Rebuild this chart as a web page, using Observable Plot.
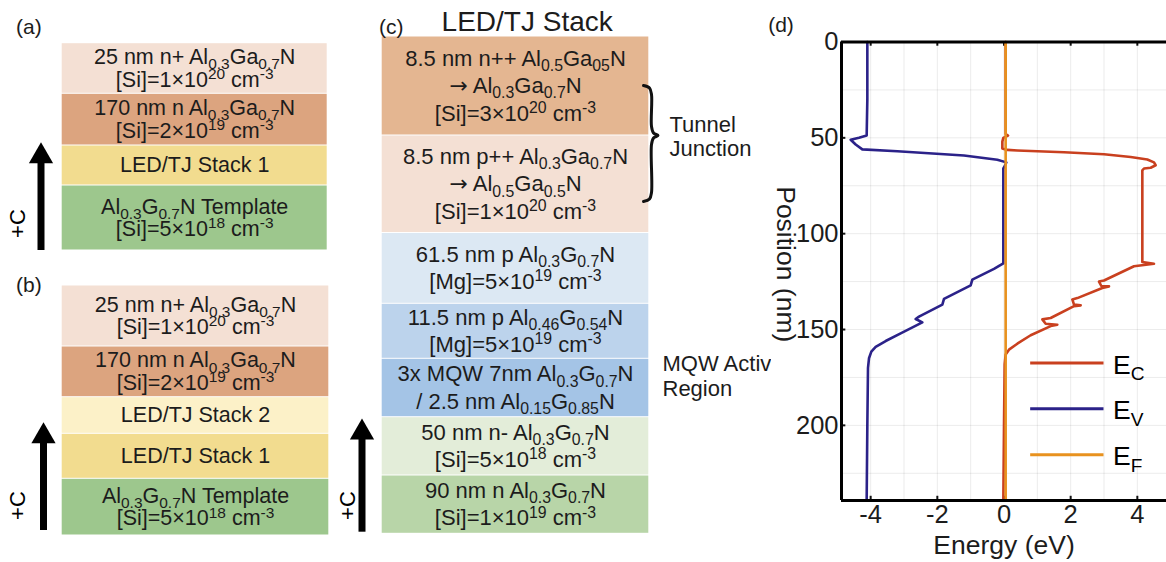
<!DOCTYPE html>
<html>
<head>
<meta charset="utf-8">
<script src="https://cdn.jsdelivr.net/npm/d3@7"></script>
<script src="https://cdn.jsdelivr.net/npm/@observablehq/plot@0.6"></script>
<style>
  html, body { margin: 0; padding: 0; background: #fff; }
  #fig { position: relative; width: 1166px; height: 562px; overflow: hidden; background: #fff; }
  #fig > svg { position: absolute; max-width: none; }
</style>
</head>
<body>
<div id="fig"></div>
<script>
// ================= DATA =================
// Layer stacks (top to bottom); "_{..}" = subscript, "^{..}" = superscript
const stackALayers = [
  ["25 nm n+ Al_{0.3}Ga_{0.7}N", "[Si]=1×10^{20} cm^{-3}"],
  ["170 nm n Al_{0.3}Ga_{0.7}N", "[Si]=2×10^{19} cm^{-3}"],
  ["LED/TJ Stack 1"],
  ["Al_{0.3}G_{0.7}N Template", "[Si]=5×10^{18} cm^{-3}"]
];
const stackBLayers = [
  ["25 nm n+ Al_{0.3}Ga_{0.7}N", "[Si]=1×10^{20} cm^{-3}"],
  ["170 nm n Al_{0.3}Ga_{0.7}N", "[Si]=2×10^{19} cm^{-3}"],
  ["LED/TJ Stack 2"],
  ["LED/TJ Stack 1"],
  ["Al_{0.3}G_{0.7}N Template", "[Si]=5×10^{18} cm^{-3}"]
];
const stackCLayers = [
  ["8.5 nm n++ Al_{0.5}Ga_{05}N", "→ Al_{0.3}Ga_{0.7}N", "[Si]=3×10^{20} cm^{-3}"],
  ["8.5 nm p++ Al_{0.3}Ga_{0.7}N", "→ Al_{0.5}Ga_{0.5}N", "[Si]=1×10^{20} cm^{-3}"],
  ["61.5 nm p Al_{0.3}G_{0.7}N", "[Mg]=5×10^{19} cm^{-3}"],
  ["11.5 nm p Al_{0.46}G_{0.54}N", "[Mg]=5×10^{19} cm^{-3}"],
  ["3x MQW 7nm Al_{0.3}G_{0.7}N", "/ 2.5 nm Al_{0.15}G_{0.85}N"],
  ["50 nm n- Al_{0.3}G_{0.7}N", "[Si]=5×10^{18} cm^{-3}"],
  ["90 nm n Al_{0.3}G_{0.7}N", "[Si]=1×10^{19} cm^{-3}"]
];
const stackCTitle = "LED/TJ Stack";
const panelLabels = ["(a)", "(b)", "(c)", "(d)"];
const growthLabel = "+C";
const tunnelLabel = ["Tunnel", "Junction"];
const mqwLabel = ["MQW Active", "Region"];

// Band diagram (energy in eV, position in nm)
const ecEnergy   = [0.05, 0.05, 0.12, -0.02, -0.05, -0.05, 0.1, 0.4, 1.8, 3.0, 3.8, 4.3, 4.5, 4.55, 4.4, 4.2, 4.15, 4.15, 4.5, 3.9, 3.0, 2.85, 2.92, 3.15, 2.95, 2.2, 2.05, 2.1, 2.3, 2.1, 1.4, 1.15, 1.25, 1.6, 1.4, 0.8, 0.4, 0.15, 0.05, 0.02, 0.0, -0.02];
const ecPosition = [0, 48, 48.8, 50, 52, 55.5, 56.3, 56.6, 57.5, 58.6, 60, 61.3, 62.8, 64.3, 65.6, 66, 67, 114.8, 115.7, 117, 124.4, 125, 127.3, 127.5, 128.3, 133.6, 134.3, 137, 137.4, 137.8, 144, 144.7, 147, 147.5, 148.2, 153, 157.4, 160.5, 163, 168, 200, 239.2];
const evEnergy   = [-4.1, -4.1, -4.12, -4.35, -4.6, -4.45, -4.25, -3.2, -1.2, -0.2, 0.07, 0.03, -0.02, -0.02, -0.3, -0.95, -1.0, -1.8, -1.85, -2.55, -2.65, -2.45, -3.1, -3.55, -3.85, -3.98, -4.05, -4.08, -4.1, -4.12];
const evPosition = [0, 30, 48.8, 50, 51, 53.5, 56, 57, 59.2, 61.4, 62.8, 64.5, 66, 115.5, 118.4, 124, 127, 134, 137, 143.3, 144.5, 146.3, 152, 156, 159, 161.5, 165, 170, 200, 239.2];
const efEnergy   = [0.05, 0.05];
const efPosition = [0, 239.2];
const energyTicks   = [-4, -2, 0, 2, 4];
const positionTicks = [0, 50, 100, 150, 200];
const legendNames = ["E_{C}", "E_{V}", "E_{F}"];
const xLabel = "Energy (eV)";
const yLabel = "Position (nm)";

// ================= STYLE / LAYOUT =================
const FONT = '"Liberation Sans", Arial, Helvetica, sans-serif';
const INK = "#1c1c1c";
const C = {
  peach: "#f4e0d4", brown: "#dca47f", brownC: "#e4b691", yellow: "#f2dc8f", paleYellow: "#fcf1c8",
  green: "#9dc78d", paleBlue: "#dce8f3", midBlue: "#bcd3ec", blue: "#a4c4e6",
  paleGreen: "#e3edd9", greenC: "#b8d5a8",
  ec: "#c9401f", ev: "#2b2289", ef: "#e8921f"
};
const layoutA = {
  svgX: 0, svgY: 0, svgW: 330, svgH: 262,
  stackX: [61.7, 326.7], stackY: [42.7, 250], heights: [50.6, 51.7, 40, 65],
  fills: [C.peach, C.brown, C.yellow, C.green], fontSize: 21.5, lineGap: 22.5,
  arrow: {x: 40.5, tip: 141.7, bottom: 250}, plusC: {x: 17.5, y: 223},
  label: {text: panelLabels[0], x: 28.3, y: 27}
};
const layoutB = {
  svgX: 0, svgY: 262, svgW: 330, svgH: 300,
  stackX: [61.7, 328.3], stackY: [285, 535], heights: [61, 50.7, 36.6, 45, 56.7],
  fills: [C.peach, C.brown, C.paleYellow, C.yellow, C.green], fontSize: 21.5, lineGap: 22.5,
  arrow: {x: 43, tip: 421.7, bottom: 530}, plusC: {x: 17.5, y: 505},
  label: {text: panelLabels[1], x: 28.3, y: 285}
};
const layoutC = {
  svgX: 330, svgY: 0, svgW: 441, svgH: 562,
  stackX: [381.7, 648.3], stackY: [36, 533.3], heights: [99, 97.5, 70.8, 55, 58.4, 58.3, 58.3],
  fills: [C.brownC, C.peach, C.paleBlue, C.midBlue, C.blue, C.paleGreen, C.greenC], fontSize: 22, lineGap: 27.5,
  arrow: {x: 361.5, tip: 418, bottom: 531.7}, plusC: {x: 347.5, y: 505},
  label: {text: panelLabels[2], x: 390.8, y: 27}
};
const braceC = [[643,85],[649,87.5],[651,94],[651,126],[653,132.5],[657.5,135],[653,137.5],[651,144],[651,192],[649,198.5],[643,201]];

const fig = document.getElementById("fig");

function richify(svg) {
  svg.querySelectorAll("text").forEach(t => {
    if (t.querySelector("tspan")) return;
    const s = t.textContent;
    if (!/[_^]\{|→/.test(s)) return;
    const fs = parseFloat(getComputedStyle(t).fontSize) || 20;
    t.textContent = "";
    let shift = 0;
    const re = /([_^])\{([^}]*)\}|(→)|([^_^→]+)/g;
    let m;
    while ((m = re.exec(s))) {
      const span = document.createElementNS("http://www.w3.org/2000/svg", "tspan");
      let target, size, txt;
      if (m[1] === "_") { target = 0.24 * fs; size = 0.72 * fs; txt = m[2]; }
      else if (m[1] === "^") { target = -0.36 * fs; size = 0.72 * fs; txt = m[2]; }
      else if (m[3]) { target = 0; size = fs; txt = m[3]; span.setAttribute("font-family", '"DejaVu Sans", sans-serif'); }
      else { target = 0; size = fs; txt = m[4]; }
      span.textContent = txt;
      if (Math.abs(target - shift) > 1e-6) span.setAttribute("dy", (target - shift).toFixed(2));
      if (size !== fs) span.setAttribute("font-size", size.toFixed(2));
      shift = target;
      t.appendChild(span);
    }
  });
}

function place(svg, x, y) {
  svg.style.left = x + "px";
  svg.style.top = y + "px";
  svg.style.background = "transparent";
  svg.style.overflow = "hidden";
  fig.appendChild(svg);
  richify(svg);
}

function stackPanel(layers, L, extra) {
  const [x0, x1] = L.stackX, [y0, y1] = L.stackY;
  const total = y1 - y0;
  const k = total / d3.sum(L.heights);
  const hs = L.heights.map(h => h * k);
  const ends = d3.cumsum(hs);
  const xu = px => (px - x0) / (x1 - x0);
  const yu = py => py - y0;
  const rows = layers.map((lines, i) => ({y1: ends[i] - hs[i], y2: ends[i], fill: L.fills[i]}));
  const textRows = layers.flatMap((lines, i) => lines.map((text, j) => ({
    text, y: (rows[i].y1 + rows[i].y2) / 2 + (j - (lines.length - 1) / 2) * L.lineGap
  })));
  const marks = [
    Plot.rect(rows, {x1: 0, x2: 1, y1: "y1", y2: "y2", fill: "fill", insetTop: 0.5, insetBottom: 0.5}),
    Plot.text(textRows, {x: 0.5, y: "y", text: "text", fontSize: L.fontSize, fill: INK}),
    Plot.ruleX([xu(L.arrow.x)], {y1: yu(L.arrow.bottom), y2: yu(L.arrow.tip + 16), stroke: "#000", strokeWidth: 7}),
    Plot.dot([xu(L.arrow.x)], {x: d => d, y: yu(L.arrow.tip + 14), symbol: "triangle", r: 9, fill: "#000", stroke: "none"}),
    Plot.text([growthLabel], {x: xu(L.plusC.x), y: yu(L.plusC.y), rotate: -90, fontSize: 22, fill: "#000"}),
    Plot.text([L.label.text], {x: xu(L.label.x), y: yu(L.label.y), fontSize: 21, fill: INK}),
    ...(extra ? extra(xu, yu) : [])
  ];
  const svg = Plot.plot({
    width: L.svgW, height: L.svgH, margin: 0,
    x: {domain: [0, 1], range: [x0 - L.svgX, x1 - L.svgX], axis: null},
    y: {domain: [0, total], range: [y0 - L.svgY, y1 - L.svgY], axis: null},
    color: {type: "identity"},
    style: {fontFamily: FONT, fontSize: "21px", color: INK, background: "transparent"},
    marks
  });
  place(svg, L.svgX, L.svgY);
}

stackPanel(stackALayers, layoutA);
stackPanel(stackBLayers, layoutB);
stackPanel(stackCLayers, layoutC, (xu, yu) => [
  Plot.text([stackCTitle], {x: xu(526.7), y: yu(22), fontSize: 28, fill: INK}),
  Plot.line(braceC, {x: d => xu(d[0]), y: d => yu(d[1]), curve: "catmull-rom", stroke: "#111", strokeWidth: 3, fill: "none"}),
  Plot.text(tunnelLabel, {x: xu(669), y: (d, i) => yu(124 + i * 24.5), textAnchor: "start", fontSize: 22, fill: INK}),
  Plot.text(mqwLabel, {x: xu(662), y: (d, i) => yu(363 + i * 25), textAnchor: "start", fontSize: 22, fill: INK})
]);

// ---------- Band diagram (d) ----------
const toPts = (E, P) => E.map((e, i) => ({e, p: P[i]}));
const ec = toPts(ecEnergy, ecPosition);
const ev = toPts(evEnergy, evPosition);
const ef = toPts(efEnergy, efPosition);
const X0 = -4.875, X1 = 4.875, YMAX = 239.2;
const legendY = [167.5, 191.3, 215.3];
const legendRows = legendNames.map((name, i) => ({name, y: legendY[i], color: [C.ec, C.ev, C.ef][i]}));

const svgD = Plot.plot({
  width: 401, height: 562,
  marginLeft: 76, marginRight: 0, marginTop: 41.5, marginBottom: 62,
  x: {domain: [X0, X1]},
  y: {domain: [0, YMAX], reverse: true},
  color: {type: "identity"},
  style: {fontFamily: FONT, fontSize: "25.5px", color: INK, background: "transparent"},
  marks: [
    Plot.gridX(d3.range(-4, 5, 1), {stroke: "#000", strokeOpacity: 0.08, strokeWidth: 1}),
    Plot.gridY(d3.range(25, 239, 25), {stroke: "#000", strokeOpacity: 0.08, strokeWidth: 1}),
    Plot.axisX(energyTicks, {tickSize: 0, tickPadding: 4, tickFormat: d => String(d), label: null, fontSize: 25.5}),
    Plot.axisY(positionTicks, {tickSize: 0, tickPadding: 3, label: null, fontSize: 25.5}),
    Plot.ruleX(energyTicks, {y1: 0, y2: 2.2, stroke: "#111", strokeWidth: 2}),
    Plot.ruleX(energyTicks, {y1: YMAX - 2.2, y2: YMAX, stroke: "#111", strokeWidth: 2}),
    Plot.ruleY(positionTicks, {x1: X0, x2: X0 + 0.13, stroke: "#111", strokeWidth: 2}),
    Plot.line(ec, {x: "e", y: "p", stroke: C.ec, strokeWidth: 2.6}),
    Plot.line(ev, {x: "e", y: "p", stroke: C.ev, strokeWidth: 2.6}),
    Plot.line(ef, {x: "e", y: "p", stroke: C.ef, strokeWidth: 2.6}),
    Plot.ruleY([0, YMAX], {stroke: "#000", strokeWidth: 3}),
    Plot.ruleX([X0], {stroke: "#000", strokeWidth: 3}),
    Plot.ruleY(legendRows, {x1: 0.8, x2: 3.0, y: "y", stroke: "color", strokeWidth: 3}),
    Plot.text(legendRows, {x: 3.27, y: "y", text: "name", dy: 2, textAnchor: "start", fontSize: 26.5, fill: "#000"}),
    Plot.text([xLabel], {frameAnchor: "bottom", dy: 45, textAnchor: "middle", lineAnchor: "middle", fontSize: 26.5, fill: INK}),
    Plot.text([yLabel], {frameAnchor: "left", dx: -56, dy: -7, rotate: 90, textAnchor: "middle", lineAnchor: "middle", fontSize: 26.5, fill: INK}),
    Plot.text([panelLabels[3]], {frameAnchor: "top-left", dx: -60.5, dy: -16.5, textAnchor: "middle", lineAnchor: "middle", fontSize: 21, fill: INK})
  ]
});
place(svgD, 765, 0);
</script>
</body>
</html>
